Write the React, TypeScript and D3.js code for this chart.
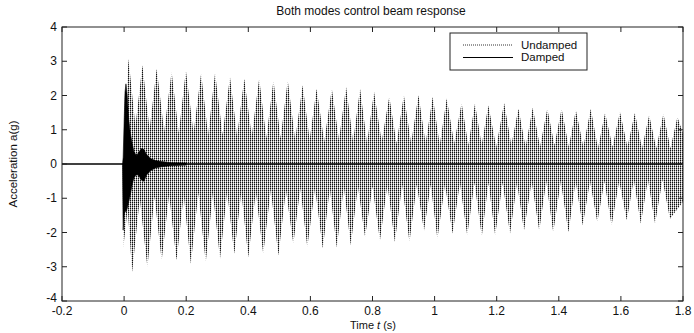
import React from 'react';
import * as d3 from 'd3';

const xTicks = [-0.2, 0, 0.2, 0.4, 0.6, 0.8, 1, 1.2, 1.4, 1.6, 1.8];
const yTicks = [-4, -3, -2, -1, 0, 1, 2, 3, 4];

// Undamped: upper spike peaks (time s, acceleration g)
const upperPeakT = [0.003, 0.014, 0.059, 0.105, 0.153, 0.199, 0.248, 0.293, 0.341, 0.387, 0.435, 0.481, 0.527, 0.575, 0.62, 0.669, 0.715, 0.76, 0.805, 0.854, 0.901, 0.948, 0.994, 1.039, 1.087, 1.13, 1.173, 1.224, 1.27, 1.316, 1.363, 1.409, 1.455, 1.503, 1.549, 1.597, 1.645, 1.691, 1.737, 1.782];
const upperPeakV = [2.2, 3.07, 2.88, 2.78, 2.69, 2.73, 2.64, 2.66, 2.54, 2.49, 2.49, 2.44, 2.44, 2.3, 2.2, 2.2, 2.25, 2.2, 2.1, 1.96, 2.01, 2.01, 1.96, 1.91, 1.78, 1.76, 1.71, 1.78, 1.61, 1.64, 1.61, 1.61, 1.57, 1.61, 1.49, 1.52, 1.49, 1.42, 1.47, 1.37];
// level the upper envelope drops to between spikes
const upperTroughV = [1.9, 1.1, 1.0, 0.95, 0.9, 0.9, 0.85, 0.85, 0.8, 0.8, 0.75, 0.75, 0.7, 0.7, 0.65, 0.7, 0.65, 0.6, 0.65, 0.6, 0.6, 0.6, 0.55, 0.6, 0.55, 0.55, 0.5, 0.55, 0.5, 0.5, 0.55, 0.5, 0.5, 0.45, 0.5, 0.5, 0.45, 0.45, 0.45];
const upperEnd = [1.8, 0.9];

// Undamped: lower spike peaks
const lowerPeakT = [-0.003, 0.026, 0.075, 0.121, 0.169, 0.215, 0.263, 0.309, 0.355, 0.4, 0.448, 0.497, 0.545, 0.59, 0.64, 0.685, 0.73, 0.776, 0.824, 0.872, 0.919, 0.966, 1.009, 1.058, 1.105, 1.152, 1.195, 1.243, 1.288, 1.337, 1.382, 1.431, 1.477, 1.524, 1.57, 1.619, 1.664, 1.71, 1.758];
const lowerPeakV = [-2.47, -3.15, -3.01, -2.81, -2.81, -2.91, -2.86, -2.76, -2.62, -2.72, -2.62, -2.67, -2.33, -2.42, -2.47, -2.44, -2.37, -2.13, -2.23, -2.28, -2.28, -1.94, -2.18, -2.03, -2.08, -2.11, -2.08, -2.03, -1.94, -1.94, -1.99, -1.99, -1.79, -1.69, -1.79, -1.64, -1.74, -1.74, -1.6];
const lowerTroughV = [-1.3, -1.0, -0.95, -0.9, -0.9, -0.85, -0.85, -0.8, -0.8, -0.8, -0.75, -0.75, -0.7, -0.7, -0.7, -0.65, -0.65, -0.65, -0.6, -0.6, -0.6, -0.6, -0.6, -0.55, -0.55, -0.55, -0.55, -0.55, -0.5, -0.5, -0.5, -0.5, -0.5, -0.5, -0.5, -0.45, -0.45, -0.45];
const lowerEnd = [1.8, -1.1];

// Damped response envelope (time, upper, lower)
const dampT = [-0.005, -0.003, 0.0, 0.003, 0.006, 0.01, 0.015, 0.02, 0.026, 0.032, 0.04, 0.048, 0.056, 0.064, 0.072, 0.085, 0.1, 0.12, 0.15, 0.2];
const dampUp = [0, 0.2, 1.2, 2.1, 2.34, 2.0, 1.3, 0.9, 0.6, 0.35, 0.25, 0.35, 0.45, 0.42, 0.28, 0.16, 0.1, 0.07, 0.04, 0.03];
const dampLo = [0, -1.93, -1.5, -1.35, -1.4, -1.3, -1.1, -0.9, -0.6, -0.4, -0.3, -0.35, -0.47, -0.5, -0.32, -0.2, -0.12, -0.08, -0.05, -0.03];

const FONT = 'Liberation Sans, Arial, Helvetica, sans-serif';

function buildEnv(pt: number[], pv: number[], tv: number[], end: number[], startT: number): [number, number][] {
  const pts: [number, number][] = [[startT, 0]];
  for (let i = 0; i < pt.length; i++) {
    pts.push([pt[i], pv[i]]);
    if (i < pt.length - 1) pts.push([(pt[i] + pt[i + 1]) / 2, tv[i]]);
  }
  pts.push([end[0], end[1]]);
  return pts;
}

export default function App() {
  const W = 694, H = 333;
  const L = 62, R = 683, T = 27, B = 301;
  const x = d3.scaleLinear().domain([-0.2, 1.8]).range([L, R]);
  const y = d3.scaleLinear().domain([-4, 4]).range([B, T]);

  const upEnv = buildEnv(upperPeakT, upperPeakV, upperTroughV, upperEnd, -0.001);
  const loEnv = buildEnv(lowerPeakT, lowerPeakV, lowerTroughV, lowerEnd, -0.005);

  const area = d3.area<[number, number]>()
    .x(d => x(d[0]))
    .y0(() => y(0))
    .y1(d => y(d[1]));

  const dampData = dampT.map((t, i) => ({ t, u: dampUp[i], l: dampLo[i] }));
  const dampArea = d3.area<{ t: number; u: number; l: number }>()
    .x(d => x(d.t))
    .y0(d => y(d.l))
    .y1(d => y(d.u));

  const tickLen = 5;
  const axisColor = '#222';

  return (
    <svg width={W} height={H} style={{ position: 'absolute', left: 0, top: 0, background: '#fff' }} fontFamily={FONT}>
      <defs>
        <pattern id="dots" width={2} height={2} patternUnits="userSpaceOnUse">
          <rect x={0} y={0} width={1} height={1} fill="#111" />
          <rect x={0} y={1} width={1} height={1} fill="#8a8a8a" />
          <rect x={1} y={0} width={1} height={1} fill="#c8c8c8" />
        </pattern>
        <clipPath id="plotClip">
          <rect x={L} y={T} width={R - L} height={B - T} />
        </clipPath>
      </defs>
      <rect x={0} y={0} width={W} height={H} fill="#fff" />

      <g clipPath="url(#plotClip)">
        <path d={area(upEnv) || ''} fill="url(#dots)" />
        <path d={area(loEnv) || ''} fill="url(#dots)" />
        <path d={dampArea(dampData) || ''} fill="#000" stroke="#000" strokeWidth={0.6} />
        <line x1={x(-0.2)} x2={x(1.8)} y1={y(0)} y2={y(0)} stroke="#000" strokeWidth={1.4} />
      </g>

      {/* axes box */}
      <rect x={L} y={T} width={R - L} height={B - T} fill="none" stroke={axisColor} strokeWidth={1} />
      {xTicks.map(t => (
        <g key={'xt' + t}>
          <line x1={x(t)} x2={x(t)} y1={B} y2={B - tickLen} stroke={axisColor} />
          <line x1={x(t)} x2={x(t)} y1={T} y2={T + tickLen} stroke={axisColor} />
          <text x={x(t)} y={315} textAnchor="middle" fontSize={12} fill="#111">{String(t)}</text>
        </g>
      ))}
      {yTicks.map(v => (
        <g key={'yt' + v}>
          <line x1={L} x2={L + tickLen} y1={y(v)} y2={y(v)} stroke={axisColor} />
          <line x1={R} x2={R - tickLen} y1={y(v)} y2={y(v)} stroke={axisColor} />
          <text x={57} y={y(v) + (v === -4 ? 0.5 : 4)} textAnchor="end" fontSize={12} fill="#111">{String(v)}</text>
        </g>
      ))}

      {/* title and labels */}
      <text x={371} y={15} textAnchor="middle" fontSize={12} fill="#111">Both modes control beam response</text>
      <text x={373} y={328.5} textAnchor="middle" fontSize={11} fill="#111">
        Time <tspan fontStyle="italic">t</tspan> (s)
      </text>
      <text transform={`translate(17,${y(0)}) rotate(-90)`} textAnchor="middle" fontSize={11.5} fill="#111">Acceleration a(g)</text>

      {/* legend */}
      <rect x={450} y={33} width={137} height={37} fill="#fff" stroke={axisColor} strokeWidth={1} />
      <line x1={463} x2={513} y1={45} y2={45} stroke="#333" strokeWidth={1} strokeDasharray="1 1" />
      <line x1={463} x2={513} y1={57.5} y2={57.5} stroke="#000" strokeWidth={1} />
      <text x={521} y={48.5} fontSize={11.5} fill="#111">Undamped</text>
      <text x={521} y={61} fontSize={11.5} fill="#111">Damped</text>
    </svg>
  );
}
